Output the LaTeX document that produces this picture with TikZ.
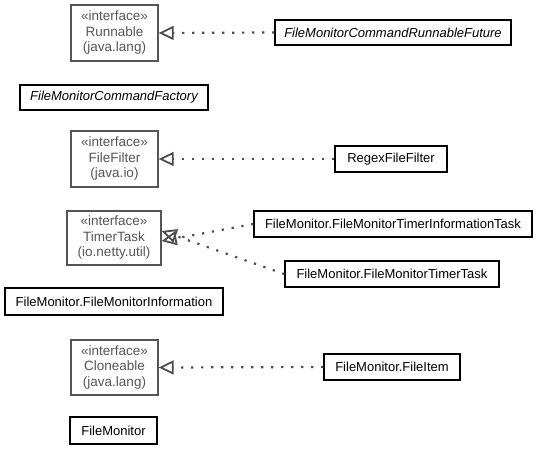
\documentclass[tikz,border=0pt]{standalone}
\usepackage{fontspec}
\setmainfont{Liberation Sans}
\usetikzlibrary{arrows.meta}
\definecolor{ifgray}{HTML}{555555}
\definecolor{edgegray}{HTML}{4d4d4d}
\begin{document}
\begin{tikzpicture}[x=1pt,y=-1pt,
  cls/.style={draw=black,line width=1.3pt,inner sep=0pt,font=\fontsize{13}{14}\selectfont,anchor=center},
  iface/.style={draw=ifgray,line width=1.3pt,inner sep=0pt,text=ifgray,align=center,font=\fontsize{13.5}{15.5}\selectfont,anchor=center},
  real/.style={draw=edgegray,line width=2.2pt,dash pattern=on 2.2pt off 7.8pt,-{Triangle[open,length=15pt,width=14pt,line width=1.8pt]}}]
\useasboundingbox (0,0) rectangle (537,449);
% interfaces
\node[iface,minimum width=87,minimum height=56] (run) at (114.5,33) {«interface»\\Runnable\\(java.lang)};
\node[iface,minimum width=87,minimum height=56] (ff) at (114.5,159) {«interface»\\FileFilter\\(java.io)};
\node[iface,minimum width=94,minimum height=54] (tt) at (114,238) {«interface»\\TimerTask\\(io.netty.util)};
\node[iface,minimum width=87,minimum height=55] (cl) at (114.5,367.5) {«interface»\\Cloneable\\(java.lang)};
% classes
\node[cls,minimum width=236,minimum height=25,font=\fontsize{13}{14}\selectfont\itshape] (fut) at (393,32.5) {FileMonitorCommandRunnableFuture};
\node[cls,minimum width=188,minimum height=25,font=\fontsize{13}{14}\selectfont\itshape] (fac) at (114,97.5) {FileMonitorCommandFactory};
\node[cls,minimum width=112,minimum height=26] (rff) at (391,159) {RegexFileFilter};
\node[cls,minimum width=278,minimum height=26] (tit) at (393,224) {FileMonitor.FileMonitorTimerInformationTask};
\node[cls,minimum width=214,minimum height=26] (ttk) at (392,274) {FileMonitor.FileMonitorTimerTask};
\node[cls,minimum width=218,minimum height=27] (inf) at (114,301.5) {FileMonitor.FileMonitorInformation};
\node[cls,minimum width=136,minimum height=26] (fi) at (392,367) {FileMonitor.FileItem};
\node[cls,minimum width=87,minimum height=27] (fm) at (113.5,430.5) {FileMonitor};
% realizations
\draw[real] (fut.west) -- (run.east);
\draw[real] (rff.west) -- (ff.east);
\draw[real] (tit.west) -- ([yshift=-3]tt.east);
\draw[real] (ttk.west) -- ([yshift=7]tt.east);
\draw[real] (fi.west) -- (cl.east);
\end{tikzpicture}
\end{document}
